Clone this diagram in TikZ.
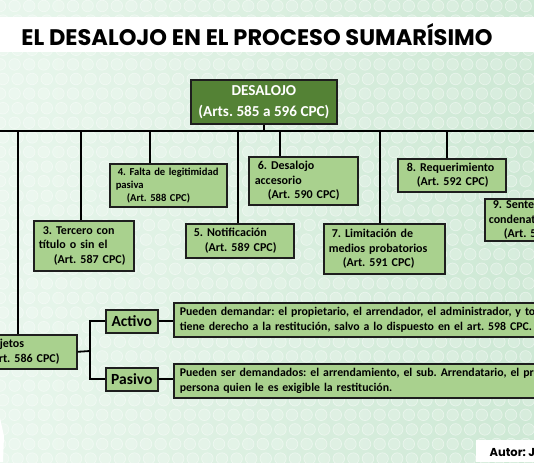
\documentclass[tikz,border=0pt]{standalone}
\usepackage{fontspec}
\setmainfont{Carlito}
\newfontfamily\titlefont{Poppins}
\usetikzlibrary{calc}
\frenchspacing
\definecolor{boxg}{HTML}{A9D18E}
\definecolor{darkg}{HTML}{548235}
\definecolor{edgec}{HTML}{1E1E1E}
\definecolor{bgl}{HTML}{E8F6EC}
\definecolor{bgr}{HTML}{CDE8D4}
\begin{document}
\begin{tikzpicture}[x=1pt,y=-1pt,
  gbox/.style={draw=edgec, line width=1.6pt, fill=boxg, anchor=north west, align=left,
    inner ysep=0pt, font=\bfseries\frenchspacing\fontsize{12}{14.6}\selectfont},
  sz/.style n args={4}{minimum width=#1pt, minimum height=#2pt, text width=#3pt, inner xsep=#4pt},
  conn/.style={draw=black, line width=1.8pt}]
\useasboundingbox (0,0) rectangle (534,462);
\clip (0,0) rectangle (534,462);
% background
\shade[left color=bgl, right color=bgr] (0,0) rectangle (534,462);
\foreach \r in {0,...,31} {
  \foreach \c in {0,...,37} {
    \draw[white, line width=0.7pt, draw opacity=0.45, fill=white, fill opacity=0.2]
      ({\c*14.6+mod(\r,2)*3}, {6+\r*14.6}) circle (5.8);
  }
}
% title banner
\fill[white] (0,17) rectangle (534,52);
\node[font=\titlefont\bfseries\fontsize{22.5}{22.5}\selectfont, text=black] (title) at (257,34.5) {EL DESALOJO EN EL PROCESO SUMARÍSIMO};
% small white artifact at left edge
\fill[white] (0,418) -- (4,436) -- (3,462) -- (0,462) -- cycle;

% main box
\node[draw=edgec, line width=1.8pt, fill=darkg, text=white, anchor=north west, align=center,
  minimum width=146pt, minimum height=44pt, inner sep=0pt,
  font=\bfseries\frenchspacing\fontsize{15.2}{21}\selectfont] (des) at (190,79) {DESALOJO\\(Arts. 585 a 596 CPC)};

% child boxes
\node[gbox, sz={98}{34}{80}{9}] (suj) at (-22,334) {Sujetos\\(Art. 586 CPC)};
\node[gbox, sz={100}{50}{90}{5}] (b3) at (33,220) {\hspace*{4pt}3. Tercero con\\título o sin el\\\hspace*{15pt}(Art. 587 CPC)};
\node[gbox, sz={117}{43}{105}{6}, font=\bfseries\frenchspacing\fontsize{10.6}{13}\selectfont] (b4) at (109,163) {\hspace*{2pt}4. Falta de legitimidad\\pasiva\\\hspace*{11pt}(Art. 588 CPC)};
\node[gbox, sz={108}{34}{92}{8}] (b5) at (185,223) {5. Notificación\\\hspace*{11pt}(Art. 589 CPC)};
\node[gbox, sz={109}{48}{97}{6}] (b6) at (248,156) {\hspace*{3pt}6. Desalojo\\accesorio\\\hspace*{13pt}(Art. 590 CPC)};
\node[gbox, sz={121}{50}{111}{5}] (b7) at (323,223) {\hspace*{3pt}7. Limitación de\\medios probatorios\\\hspace*{14pt}(Art. 591 CPC)};
\node[gbox, sz={108}{33}{90}{9}] (b8) at (397,158) {8. Requerimiento\\\hspace*{10pt}(Art. 592 CPC)};
\node[gbox, sz={100}{42}{92}{4}] (b9) at (484,198) {\hspace*{4pt}9. Sentencia\\condenatoria\\\hspace*{15pt}(Art. 593 CPC)};

% Activo / Pasivo
\node[gbox, sz={52}{23}{48}{2}, align=center, font=\bfseries\fontsize{15.5}{16}\selectfont] (act) at (105,309) {Activo};
\node[gbox, sz={52}{23}{48}{2}, align=center, font=\bfseries\fontsize{15.5}{16}\selectfont] (pas) at (105,367) {Pasivo};
\node[gbox, sz={620}{34}{608}{6}, font=\bfseries\frenchspacing\fontsize{11.8}{14.6}\selectfont] (ta) at (173,302) {Pueden demandar: el propietario, el arrendador, el administrador, y todo aquel que\\tiene derecho a la restitución, salvo a lo dispuesto en el art. 598 CPC.};
\node[gbox, sz={620}{34}{608}{6}, font=\bfseries\frenchspacing\fontsize{11.8}{14.6}\selectfont] (tp) at (173,363) {Pueden ser demandados: el arrendamiento, el sub. Arrendatario, el precario o cualquier otra\\persona quien le es exigible la restitución.};

% bus
\coordinate (busL) at (-5,131);
\coordinate (busR) at (545,131);
\coordinate (busT) at (des.south |- busL);
\draw[conn] (busL) -- (busR);
\draw[conn] (des.south) -- (busT);
\coordinate (d2) at (18,131);
\coordinate (d3) at (81,131);
\coordinate (d4) at (150,131);
\coordinate (d5) at (238,131);
\coordinate (d6) at (280,131);
\coordinate (d7) at (380,131);
\coordinate (d8) at (447,131);
\draw[conn] (d2) -- (d2 |- suj.north);
\draw[conn] (d3) -- (d3 |- b3.north);
\draw[conn] (d4) -- (d4 |- b4.north);
\draw[conn] (d5) -- (d5 |- b5.north);
\draw[conn] (d6) -- (d6 |- b6.north);
\draw[conn] (d7) -- (d7 |- b7.north);
\draw[conn] (d8) -- (d8 |- b8.north);

% sujetos fork
\coordinate (fork) at (90,351);
\draw[conn] (suj.east) -- (fork);
\draw[conn] (act.west) -| (fork);
\draw[conn] (pas.west) -| (fork);
\draw[conn] (act.east) -- (act.east -| ta.west);
\draw[conn] (pas.east) -- (pas.east -| tp.west);

% author
\fill[white] (476,440) rectangle (540,462);
\node[anchor=base west, font=\titlefont\bfseries\fontsize{11.5}{12}\selectfont, text=black] (aut) at (486,456) {Autor: José};
\end{tikzpicture}
\end{document}
